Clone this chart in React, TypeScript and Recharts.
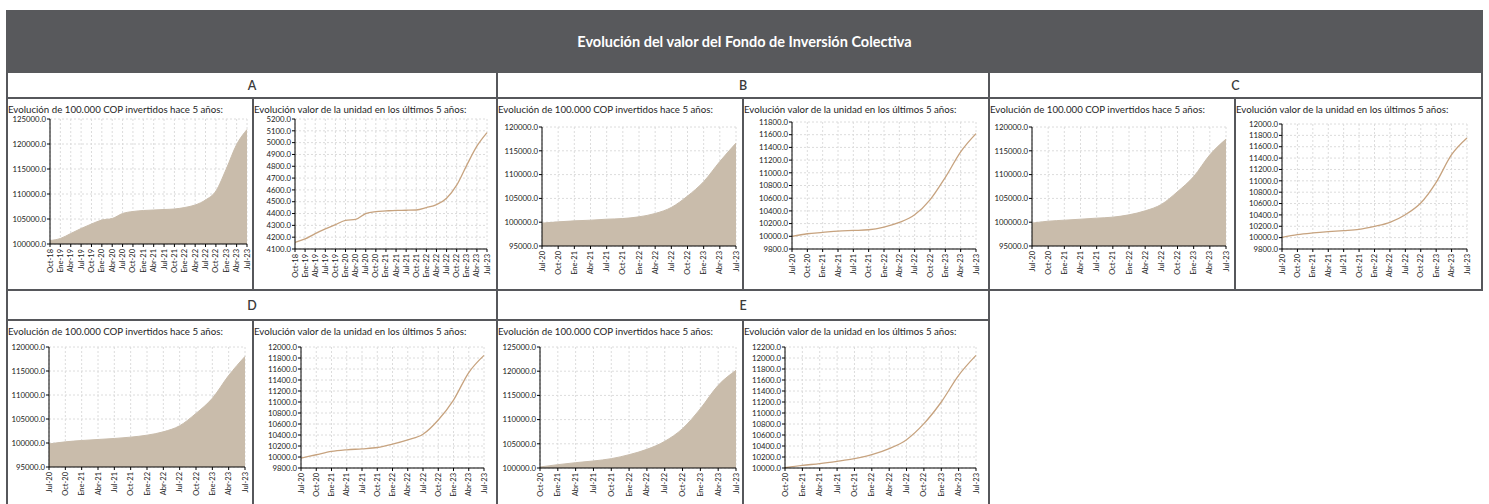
import { AreaChart, Area, LineChart, Line, XAxis, YAxis, CartesianGrid } from "recharts";

// categorías (trimestres)
const mesesA = [
  "Oct-18", "Ene-19", "Abr-19", "Jul-19", "Oct-19", "Ene-20", "Abr-20", "Jul-20", "Oct-20", "Ene-21",
  "Abr-21", "Jul-21", "Oct-21", "Ene-22", "Abr-22", "Jul-22", "Oct-22", "Ene-23", "Abr-23", "Jul-23",
];
const mesesBCD = [
  "Jul-20", "Oct-20", "Ene-21", "Abr-21", "Jul-21", "Oct-21", "Ene-22", "Abr-22", "Jul-22", "Oct-22",
  "Ene-23", "Abr-23", "Jul-23",
];
const mesesE = [
  "Oct-20", "Ene-21", "Abr-21", "Jul-21", "Oct-21", "Ene-22", "Abr-22", "Jul-22", "Oct-22", "Ene-23",
  "Abr-23", "Jul-23",
];

// evolución de 100.000 COP
const inversionA = [100700, 101100, 102100, 103100, 104000, 104800, 105100, 106100, 106500, 106700, 106800, 106900, 107000, 107300, 107800, 108800, 110600, 115000, 119900, 122900];
const inversionB = [99800, 100070, 100280, 100420, 100630, 100770, 101130, 101830, 103100, 105490, 108520, 112750, 116620];
const inversionC = [99800, 100210, 100420, 100630, 100850, 101060, 101550, 102390, 103730, 106410, 109580, 114150, 117460];
const inversionD = [99800, 100240, 100520, 100730, 100940, 101220, 101630, 102330, 103590, 106170, 109310, 114060, 118040];
const inversionE = [100210, 100690, 101100, 101450, 101930, 102750, 103860, 105510, 108130, 112260, 117080, 120180];

// valor de la unidad
const unidadA = [4156, 4185, 4230, 4270, 4306, 4343, 4350, 4400, 4416, 4422, 4427, 4428, 4430, 4450, 4475, 4530, 4640, 4810, 4970, 5085];
const unidadB = [9998, 10040, 10061, 10082, 10092, 10103, 10145, 10218, 10338, 10573, 10928, 11330, 11617];
const unidadC = [10005, 10052, 10082, 10105, 10123, 10146, 10199, 10270, 10404, 10609, 10973, 11460, 11753];
const unidadD = [9981, 10041, 10101, 10131, 10149, 10173, 10234, 10312, 10414, 10673, 11035, 11535, 11848];
const unidadE = [10006, 10048, 10079, 10121, 10170, 10242, 10352, 10515, 10806, 11200, 11685, 12048];

// marcas del eje Y
const ticksInv100 = [100000, 105000, 110000, 115000, 120000, 125000];
const ticksInv95 = [95000, 100000, 105000, 110000, 115000, 120000];
const ticksUnidadA = [4100, 4200, 4300, 4400, 4500, 4600, 4700, 4800, 4900, 5000, 5100, 5200];
const ticksUnidadB = [9800, 10000, 10200, 10400, 10600, 10800, 11000, 11200, 11400, 11600, 11800];
const ticksUnidadCD = [9800, 10000, 10200, 10400, 10600, 10800, 11000, 11200, 11400, 11600, 11800, 12000];
const ticksUnidadE = [10000, 10200, 10400, 10600, 10800, 11000, 11200, 11400, 11600, 11800, 12000, 12200];

const tituloInv = "Evolución de 100.000 COP invertidos hace 5 años:";
const tituloUnidad = "Evolución valor de la unidad en los últimos 5 años:";

const BORDE = "#56575b";
const AREA = "#c9bcab";
const LINEA = "#c7a37f";
const FONT = "Lato, 'Open Sans', sans-serif";

type Rect = { l: number; t: number; r: number; b: number };

const XTick = (p: any) => {
  const { x, y, payload } = p;
  return (
    <text
      x={x}
      y={y}
      transform={`rotate(-90 ${x} ${y})`}
      textAnchor="end"
      dominantBaseline="central"
      fontSize={7.5}
      fill="#222"
      fontFamily={FONT}
    >
      {payload.value}
    </text>
  );
};

function Mini({
  kind,
  cell,
  plot,
  cats,
  vals,
  ticks,
  titulo,
}: {
  kind: "area" | "line";
  cell: Rect;
  plot: Rect;
  cats: string[];
  vals: number[];
  ticks: number[];
  titulo: string;
}) {
  const data = cats.map((m, i) => ({ m, v: vals[i] }));
  const boxY = cell.t + 13;
  const boxW = cell.r - cell.l;
  const boxH = cell.b - boxY;
  const xh = 36;
  const margin = {
    top: plot.t - boxY,
    right: cell.r - plot.r,
    left: 0,
    bottom: boxY + boxH - plot.b - xh,
  };
  const yw = plot.l - cell.l;
  const domain: [number, number] = [ticks[0], ticks[ticks.length - 1]];

  const xAxis = (
    <XAxis
      dataKey="m"
      interval={0}
      height={xh}
      tick={XTick}
      tickSize={3}
      axisLine={{ stroke: "#000" }}
      tickLine={{ stroke: "#000" }}
    />
  );
  const yAxis = (
    <YAxis
      width={yw}
      domain={domain}
      ticks={ticks}
      interval={0}
      allowDataOverflow
      tickSize={3}
      tickMargin={1}
      tickFormatter={(v: number) => v.toFixed(1)}
      tick={{ fontSize: 7.8, fill: "#222", fontFamily: FONT }}
      axisLine={{ stroke: "#000" }}
      tickLine={{ stroke: "#000" }}
    />
  );
  const grid = <CartesianGrid stroke="#dcdcdc" strokeDasharray="2 2" />;

  return (
    <div style={{ position: "absolute", left: cell.l, top: cell.t, width: boxW, height: cell.b - cell.t, overflow: "hidden" }}>
      <div
        style={{
          position: "absolute",
          left: 0,
          top: 4,
          fontSize: 9.7,
          color: "#1e1e1e",
          whiteSpace: "nowrap",
          fontFamily: FONT,
          zIndex: 2,
        }}
      >
        {titulo}
      </div>
      <div style={{ position: "absolute", left: 0, top: boxY - cell.t }}>
        {kind === "area" ? (
          <AreaChart width={boxW} height={boxH} data={data} margin={margin}>
            {grid}
            {xAxis}
            {yAxis}
            <Area
              type="monotone"
              dataKey="v"
              stroke={AREA}
              fill={AREA}
              fillOpacity={1}
              isAnimationActive={false}
            />
          </AreaChart>
        ) : (
          <LineChart width={boxW} height={boxH} data={data} margin={margin}>
            {grid}
            {xAxis}
            {yAxis}
            <Line
              type="monotone"
              dataKey="v"
              stroke={LINEA}
              strokeWidth={1.3}
              dot={false}
              isAnimationActive={false}
            />
          </LineChart>
        )}
      </div>
    </div>
  );
}

const lineV = (x: number, y1: number, y2: number, k: string) => (
  <div key={k} style={{ position: "absolute", left: x, top: y1, width: 2, height: y2 - y1, background: BORDE }} />
);
const lineH = (y: number, x1: number, x2: number, k: string) => (
  <div key={k} style={{ position: "absolute", left: x1, top: y, width: x2 - x1, height: 2, background: BORDE }} />
);

const Letra = ({ txt, x1, x2, y1, y2 }: { txt: string; x1: number; x2: number; y1: number; y2: number }) => (
  <div
    style={{
      position: "absolute",
      left: x1,
      top: y1,
      width: x2 - x1,
      height: y2 - y1,
      display: "flex",
      alignItems: "center",
      justifyContent: "center",
      fontSize: 12.5,
      fontWeight: 600,
      color: "#3a3a3a",
      fontFamily: FONT,
    }}
  >
    {txt}
  </div>
);

export default function App() {
  const r1 = { t: 99, b: 289 };
  const r2 = { t: 321, b: 514 };
  return (
    <div
      style={{
        position: "absolute",
        left: 0,
        top: 0,
        width: 1489,
        height: 504,
        overflow: "hidden",
        background: "#fff",
        fontFamily: FONT,
      }}
    >
      <div
        style={{
          position: "absolute",
          left: 6,
          top: 10,
          width: 1477,
          height: 63,
          background: "#58595c",
          color: "#fff",
          fontWeight: 700,
          fontSize: 14.5,
          display: "flex",
          alignItems: "center",
          justifyContent: "center",
        }}
      >
        Evolución del valor del Fondo de Inversión Colectiva
      </div>

      <Letra txt="A" x1={8} x2={496} y1={73} y2={97} />
      <Letra txt="B" x1={498} x2={988} y1={73} y2={97} />
      <Letra txt="C" x1={990} x2={1481} y1={73} y2={97} />
      <Letra txt="D" x1={8} x2={496} y1={291} y2={319} />
      <Letra txt="E" x1={498} x2={988} y1={291} y2={319} />

      <Mini kind="area" titulo={tituloInv} cell={{ l: 8, r: 252, ...r1 }} plot={{ l: 50, r: 247, t: 119, b: 244 }} cats={mesesA} vals={inversionA} ticks={ticksInv100} />
      <Mini kind="line" titulo={tituloUnidad} cell={{ l: 254, r: 496, ...r1 }} plot={{ l: 295, r: 487, t: 119, b: 249 }} cats={mesesA} vals={unidadA} ticks={ticksUnidadA} />
      <Mini kind="area" titulo={tituloInv} cell={{ l: 498, r: 742, ...r1 }} plot={{ l: 542, r: 736, t: 127, b: 246 }} cats={mesesBCD} vals={inversionB} ticks={ticksInv95} />
      <Mini kind="line" titulo={tituloUnidad} cell={{ l: 744, r: 988, ...r1 }} plot={{ l: 792, r: 976, t: 122, b: 249 }} cats={mesesBCD} vals={unidadB} ticks={ticksUnidadB} />
      <Mini kind="area" titulo={tituloInv} cell={{ l: 990, r: 1234, ...r1 }} plot={{ l: 1032, r: 1226, t: 127, b: 246 }} cats={mesesBCD} vals={inversionC} ticks={ticksInv95} />
      <Mini kind="line" titulo={tituloUnidad} cell={{ l: 1236, r: 1481, ...r1 }} plot={{ l: 1282, r: 1467, t: 124, b: 249 }} cats={mesesBCD} vals={unidadC} ticks={ticksUnidadCD} />

      <Mini kind="area" titulo={tituloInv} cell={{ l: 8, r: 252, ...r2 }} plot={{ l: 49, r: 245, t: 347, b: 467 }} cats={mesesBCD} vals={inversionD} ticks={ticksInv95} />
      <Mini kind="line" titulo={tituloUnidad} cell={{ l: 254, r: 496, ...r2 }} plot={{ l: 301, r: 484, t: 347, b: 468 }} cats={mesesBCD} vals={unidadD} ticks={ticksUnidadCD} />
      <Mini kind="area" titulo={tituloInv} cell={{ l: 498, r: 742, ...r2 }} plot={{ l: 540, r: 736, t: 347, b: 468 }} cats={mesesE} vals={inversionE} ticks={ticksInv100} />
      <Mini kind="line" titulo={tituloUnidad} cell={{ l: 744, r: 988, ...r2 }} plot={{ l: 785, r: 976, t: 347, b: 468 }} cats={mesesE} vals={unidadE} ticks={ticksUnidadE} />

      {[
        lineV(6, 73, 504, "v0"),
        lineV(496, 73, 504, "v1"),
        lineV(988, 73, 504, "v2"),
        lineV(1481, 73, 291, "v3"),
        lineV(252, 97, 291, "v4"),
        lineV(252, 319, 504, "v5"),
        lineV(742, 97, 291, "v6"),
        lineV(742, 319, 504, "v7"),
        lineV(1234, 97, 291, "v8"),
        lineH(97, 6, 1483, "h0"),
        lineH(289, 6, 1483, "h1"),
        lineH(319, 6, 990, "h2"),
      ]}
    </div>
  );
}
